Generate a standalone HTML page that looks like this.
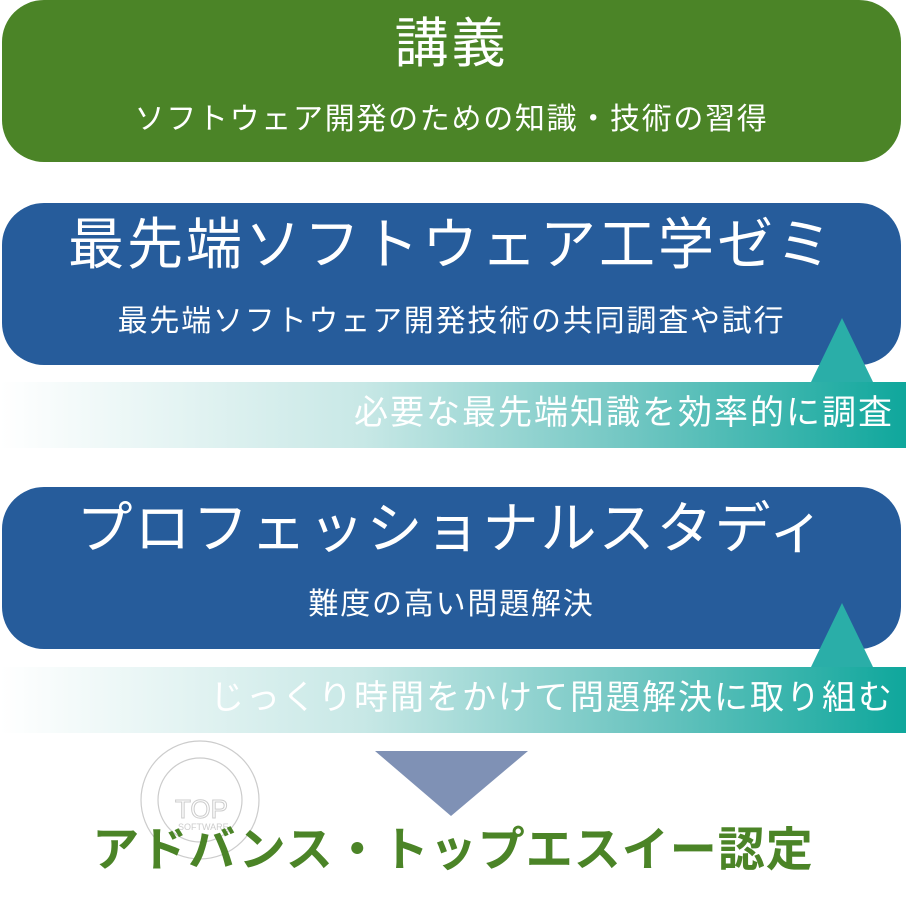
<!DOCTYPE html>
<html><head><meta charset="utf-8"><style>
body{margin:0;width:906px;height:912px;background:#fff;position:relative;overflow:hidden;font-family:"Liberation Sans","Noto Sans CJK JP",sans-serif;}
.box{position:absolute;left:2px;width:899px;height:162px;border-radius:42px;color:#fff;text-align:center;}
.t{position:absolute;left:0;right:0;white-space:nowrap;line-height:1;}
.bar{position:absolute;left:0;width:906px;height:66px;background:linear-gradient(to right,#fff 0%,#c8e8e6 40%,#70c6c2 70%,#0fa79c 100%);}
.bar span{position:absolute;right:12px;top:14px;color:#fff;font-size:34px;letter-spacing:2px;white-space:nowrap;line-height:1;}
</style></head><body>
<div class="box" style="top:0;background:#4b8427;">
<div class="t" style="top:17px;font-size:54px;letter-spacing:3px;">講義</div>
<div class="t" style="top:105px;font-size:30px;letter-spacing:1.7px;">ソフトウェア開発のための知識・技術の習得</div>
</div>
<div class="box" style="top:203px;background:#265c9b;">
<div class="t" style="top:14px;font-size:56px;letter-spacing:3px;">最先端ソフトウェア工学ゼミ</div>
<div class="t" style="top:104px;font-size:30px;letter-spacing:1.8px;">最先端ソフトウェア開発技術の共同調査や試行</div>
</div>
<div class="bar" style="top:382px;"><span>必要な最先端知識を効率的に調査</span></div>
<div class="box" style="top:487px;background:#265c9b;">
<div class="t" style="top:14px;font-size:56px;letter-spacing:2px;">プロフェッショナルスタディ</div>
<div class="t" style="top:103px;font-size:30px;letter-spacing:1.8px;">難度の高い問題解決</div>
</div>
<div class="bar" style="top:667px;"><span>じっくり時間をかけて問題解決に取り組む</span></div>
<svg width="906" height="912" style="position:absolute;left:0;top:0;">
<polygon points="842,318 811,382 873,382" fill="#2aaea8"/>
<polygon points="842,603 811,667 873,667" fill="#2aaea8"/>
<polygon points="375,751 528,751 451,816" fill="#7f91b5"/>
<g fill="none" stroke="#ccc" stroke-width="1.2">
<circle cx="200" cy="800" r="59"/><circle cx="200" cy="800" r="42"/>
</g>
<text x="175" y="818" font-size="26" fill="none" stroke="#ccc" font-family="Liberation Sans">TOP</text>
<text x="178" y="830" font-size="9" fill="#ccc" font-family="Liberation Sans">SOFTWARE</text>
</svg>
<div class="t" style="top:826px;font-size:47px;font-weight:bold;color:#4b8427;text-align:center;letter-spacing:1px;">アドバンス・トップエスイー認定</div>
</body></html>
